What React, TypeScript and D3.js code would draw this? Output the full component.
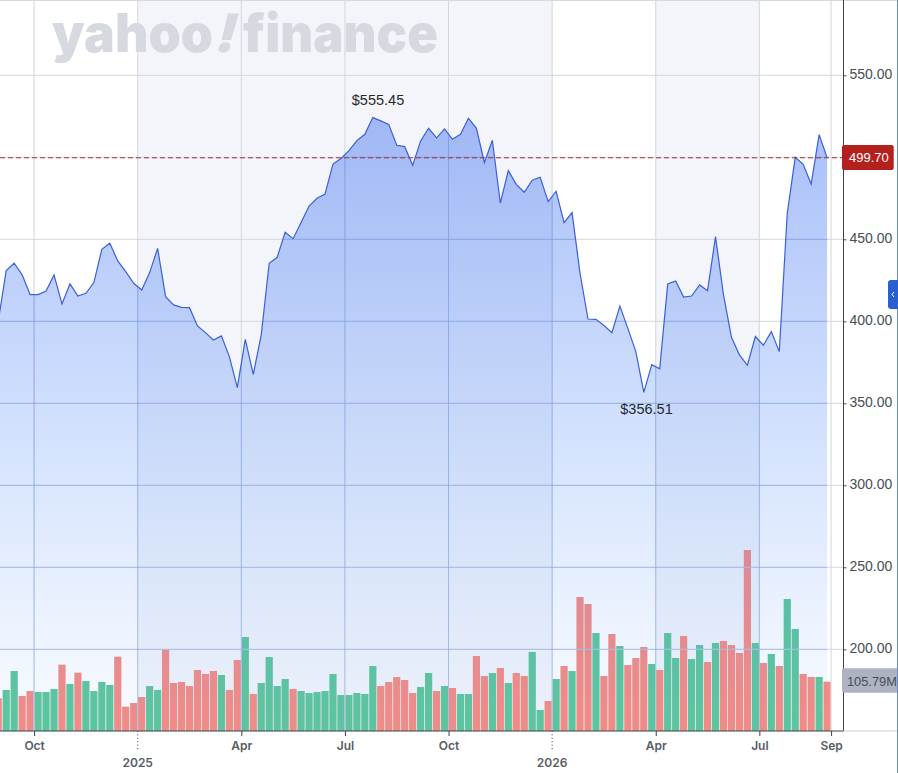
import React, { useEffect } from 'react';
import * as d3 from 'd3';

// weekly closes
const closes = [
  400, 430.9, 435.4, 428.3, 416.3, 416.3, 418.5, 428.3, 410.6, 422.8, 415.4, 417.1, 423.6, 443.9, 447.6,
  436.8, 430.3, 423.2, 419.1, 429.7, 444.5, 415, 410, 408.5, 408.3, 397.2, 393.1, 388.6, 391.1, 378.5,
  359.6, 389, 367.7, 391.7, 435.4, 439, 454.3, 450.4, 460.2, 470.3, 475, 477.6, 495.9, 499.2, 504.1,
  510.2, 514, 524.2, 522.2, 520.1, 507.3, 506.5, 495.1, 510, 517.7, 511.8, 517.3, 511, 514, 523.8,
  517.7, 496.7, 510.4, 472, 491.9, 483.5, 478.7, 486, 487.8, 473, 479.3, 460.2, 466.3, 429.3, 401.4,
  401.2, 397.4, 393.1, 409.3, 395.7, 381.5, 356.7, 373.6, 371.1, 422.8, 424.6, 414.8, 415.4, 422.2, 418.7,
  451.6, 416.1, 390.2, 379.5, 373.2, 390.7, 385.4, 393.7, 381.5, 465.9, 500, 495.7, 483.7, 513.8, 499.7,
];

// volume in millions
const volumes = [
  70.1, 87.9, 128.7, 75.1, 85.8, 83.7, 83.7, 90.1, 142.3, 100.8, 125.1, 107.3, 85.8, 105.1, 98.7,
  159.4, 52.2, 60.1, 72.9, 96.5, 87.9, 174.5, 103, 105.1, 96.5, 130.8, 122.3, 128.7, 120.1, 87.9,
  152.3, 201.6, 79.4, 103, 158.7, 96.5, 111.5, 90.1, 85.8, 81.5, 83.7, 85.8, 122.3, 77.2, 77.2,
  81.5, 79.4, 139.4, 96.5, 105.1, 115.8, 109.4, 81.5, 94.4, 124.4, 85.8, 96.5, 92.2, 79.4, 79.4,
  160.9, 118, 124.4, 135.1, 103, 124.4, 118, 169.5, 45, 64.4, 111.5, 139.4, 128.7, 287.4, 272.4,
  210.2, 118, 208.1, 182.3, 141.6, 156.6, 180.2, 143.7, 130.8, 210.2, 156.6, 203.8, 154.4, 184.5, 148,
  188.8, 193.1, 184.5, 167.3, 388.2, 188.8, 145.9, 165.2, 139.4, 283.1, 218.8, 122.3, 115.8, 115.8, 105.79,
];

// g = up week, r = down week
const volumeColors = (
  'rggrrgggrgrgggg' +
  'rrrrggrrrrrrrgr' +
  'rgrggggrggggggg' +
  'gggrrrrrggrgrgg' +
  'rrgrgrrggrgrgrr' +
  'grrgrrrgrggrggr' +
  'grrrrgrgrggrrgr'
).split('');

const priceTicks = [200, 250, 300, 350, 400, 450, 500, 550];
const labelledPriceTicks = [200, 250, 300, 350, 400, 450, 550]; // 500 sits under the last price flag
const monthTicks = [4.5, 30.5, 43.5, 56.5, 82.5, 95.5, 104.5];
const monthLabels = ['Oct', 'Apr', 'Jul', 'Oct', 'Apr', 'Jul', 'Sep'];
const yearTicks = [17.5, 69.5];
const yearLabels = ['2025', '2026'];
const shadedRanges = [
  [17.5, 69.5],
  [82.5, 95.5],
];

const lastPrice = 499.7;
const lastVolume = '105.79M';

const width = 898;
const height = 773;
const axisX = 843.5;
const baseY = 731;

const App = () => {
  function drawChart() {
    d3.select('#chart-container').select('svg').remove();

    const svg = d3
      .select('#chart-container')
      .append('svg')
      .attr('width', width)
      .attr('height', height)
      .style('position', 'absolute')
      .style('left', 0)
      .style('top', 0)
      .style('font-family', '"Liberation Sans", Arial, sans-serif');

    const x = d3.scaleLinear().domain([0, 104]).range([-1.77, 827.1]);
    const y = d3.scaleLinear().domain([200, 550]).range([649.3, 75.3]);
    const yVol = d3.scaleLinear().domain([0, 388.2]).range([baseY, 550]);

    const area = d3
      .area<number>()
      .x((_, i) => x(i))
      .y0(baseY)
      .y1((d) => y(d));
    const line = d3
      .line<number>()
      .x((_, i) => x(i))
      .y((d) => y(d));

    const defs = svg.append('defs');
    const grad = defs
      .append('linearGradient')
      .attr('id', 'areaFill')
      .attr('gradientUnits', 'userSpaceOnUse')
      .attr('x1', 0)
      .attr('x2', 0)
      .attr('y1', 117)
      .attr('y2', baseY);
    grad.append('stop').attr('offset', 0).attr('stop-color', '#2f62f0').attr('stop-opacity', 0.42);
    grad.append('stop').attr('offset', 1).attr('stop-color', '#3f8cff').attr('stop-opacity', 0.03);
    defs.append('clipPath').attr('id', 'areaClip').append('path').attr('d', area(closes));

    // year / quarter shading
    svg
      .selectAll('rect.band')
      .data(shadedRanges)
      .enter()
      .append('rect')
      .attr('class', 'band')
      .attr('x', (d) => x(d[0]))
      .attr('width', (d) => x(d[1]) - x(d[0]))
      .attr('y', 0)
      .attr('height', baseY)
      .attr('fill', '#f3f5fa');

    // volume bars
    svg
      .selectAll('rect.vol')
      .data(volumes)
      .enter()
      .append('rect')
      .attr('class', 'vol')
      .attr('x', (_, i) => x(i) - 3.6)
      .attr('width', 7.2)
      .attr('y', (d) => yVol(d))
      .attr('height', (d) => baseY - yVol(d))
      .attr('fill', (_, i) => (volumeColors[i] === 'g' ? '#5fc69c' : '#f58c84'));

    // grid, drawn once plain and once tinted inside the area
    const drawGrid = (parent: any, color: string, opacity: number) => {
      parent
        .append('g')
        .selectAll('line')
        .data(priceTicks)
        .enter()
        .append('line')
        .attr('x1', 0)
        .attr('x2', axisX)
        .attr('y1', (d: number) => y(d))
        .attr('y2', (d: number) => y(d))
        .attr('stroke', color)
        .attr('stroke-opacity', opacity);
      parent
        .append('g')
        .selectAll('line')
        .data([...monthTicks, ...yearTicks])
        .enter()
        .append('line')
        .attr('x1', (d: number) => x(d))
        .attr('x2', (d: number) => x(d))
        .attr('y1', 0)
        .attr('y2', baseY)
        .attr('stroke', color)
        .attr('stroke-opacity', opacity);
    };
    drawGrid(svg, '#d2d6df', 1);
    svg.append('line').attr('x1', 0).attr('x2', width).attr('y1', 0.5).attr('y2', 0.5).attr('stroke', '#d5d9e2');

    // watermark
    const mark = svg
      .append('g')
      .attr('fill', '#d6dae0')
      .attr('font-family', 'Inter, sans-serif')
      .attr('font-weight', 900)
      .attr('font-size', 53);
    mark.append('text').attr('x', 52).attr('y', 52).attr('textLength', 161).attr('lengthAdjust', 'spacingAndGlyphs').text('yahoo');
    mark.append('text').attr('transform', 'translate(213,52) skewX(-15)').text('!');
    mark.append('text').attr('x', 243).attr('y', 52).attr('textLength', 195).attr('lengthAdjust', 'spacingAndGlyphs').text('finance');

    // price area + line
    svg.append('path').attr('d', area(closes)).attr('fill', 'url(#areaFill)');
    drawGrid(svg.append('g').attr('clip-path', 'url(#areaClip)'), '#5b90e4', 0.3);
    svg.append('path').attr('d', line(closes)).attr('fill', 'none').attr('stroke', '#3a5fd9').attr('stroke-width', 1.2);

    // last price line
    svg
      .append('line')
      .attr('x1', 0)
      .attr('x2', axisX)
      .attr('y1', y(lastPrice))
      .attr('y2', y(lastPrice))
      .attr('stroke', '#a9302e')
      .attr('stroke-dasharray', '5 3');

    // high / low labels
    svg.append('text').attr('x', 378).attr('y', 105).attr('text-anchor', 'middle').attr('font-size', 14.5).attr('fill', '#232a31').text('$555.45');
    svg.append('text').attr('x', 646.5).attr('y', 414).attr('text-anchor', 'middle').attr('font-size', 14.5).attr('fill', '#232a31').text('$356.51');

    // right axis
    const yAxis = d3
      .axisRight(y)
      .tickValues(labelledPriceTicks)
      .tickSize(3)
      .tickPadding(3)
      .tickFormat((d) => d3.format('.2f')(d as number));
    const yG = svg.append('g').attr('transform', `translate(${axisX},0)`).call(yAxis);
    yG.select('.domain').remove();
    yG.selectAll('line').attr('stroke', '#464e56');
    yG.selectAll('text')
      .attr('font-size', 14)
      .attr('dy', '0.26em')
      .attr('font-family', '"Liberation Sans", Arial, sans-serif')
      .attr('fill', '#464e56');
    svg.append('line').attr('x1', axisX).attr('x2', axisX).attr('y1', 0).attr('y2', baseY).attr('stroke', '#3b4249');

    // bottom axis
    const xAxis = d3
      .axisBottom(x)
      .tickValues(monthTicks)
      .tickSize(5)
      .tickPadding(5)
      .tickFormat((_, i) => monthLabels[i]);
    const xG = svg.append('g').attr('transform', `translate(0,${baseY})`).call(xAxis);
    xG.select('.domain').remove();
    xG.selectAll('line').attr('stroke', '#3b4249');
    xG.selectAll('text').attr('font-size', 12).attr('font-family', 'Inter, sans-serif').attr('font-weight', 600).attr('fill', '#565d65');

    svg.append('line').attr('x1', 0).attr('x2', axisX).attr('y1', baseY).attr('y2', baseY).attr('stroke', '#3b4249');
    svg.append('line').attr('x1', axisX).attr('x2', width).attr('y1', baseY).attr('y2', baseY).attr('stroke', '#c9ced6');

    // year ticks, dotted and on a second row
    const years = svg.append('g').selectAll('g').data(yearTicks).enter().append('g').attr('transform', (d) => `translate(${x(d)},${baseY})`);
    years.append('line').attr('y1', 0).attr('y2', 20).attr('stroke', '#3b4249').attr('stroke-dasharray', '1 2.4');
    years
      .append('text')
      .attr('y', 36)
      .attr('text-anchor', 'middle')
      .attr('font-size', 12)
      .attr('font-family', 'Inter, sans-serif')
      .attr('font-weight', 600)
      .attr('fill', '#565d65')
      .text((_, i) => yearLabels[i]);

    // last value flags
    svg.append('rect').attr('x', 842).attr('y', y(lastPrice) - 12.8).attr('width', 51.7).attr('height', 25).attr('rx', 2).attr('fill', '#b3201d');
    svg.append('text').attr('x', 849).attr('y', y(lastPrice) + 4.5).attr('font-size', 13).attr('fill', '#fff').text(d3.format('.2f')(lastPrice));
    svg.append('rect').attr('x', 842).attr('y', 668.3).attr('width', 60).attr('height', 24.4).attr('rx', 2).attr('fill', '#adb3c2');
    svg.append('text').attr('x', 847).attr('y', 685.5).attr('font-size', 12.8).attr('fill', '#464e56').text(lastVolume);

    // panel toggle and right edge
    svg.append('line').attr('x1', 897.5).attr('x2', 897.5).attr('y1', 0).attr('y2', height).attr('stroke', '#6f88c6');
    svg.append('path').attr('d', 'M898 280 H891 a3 3 0 0 0 -3 3 V306 a3 3 0 0 0 3 3 H898 Z').attr('fill', '#2a5fd0');
    svg.append('path').attr('d', 'M894 292 l-2 2.5 l2 2.5').attr('fill', 'none').attr('stroke', '#fff').attr('stroke-width', 1);
  }

  useEffect(() => {
    drawChart();
  }, []);

  return <div id='chart-container' />;
};

export default App;
